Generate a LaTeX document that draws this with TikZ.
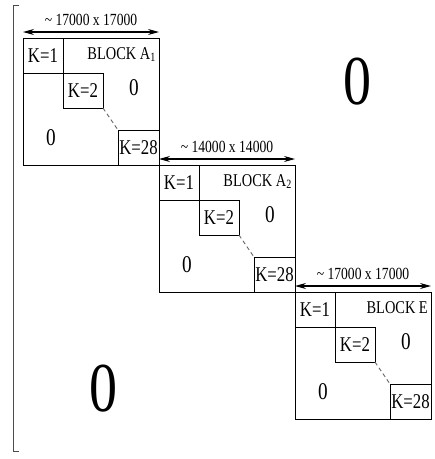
\documentclass[tikz,border=0pt]{standalone}
\usepackage{fontspec}
\setmainfont{Liberation Serif}[FakeStretch=0.8]
\usetikzlibrary{positioning,arrows.meta}

\begin{document}
\begin{tikzpicture}[
x=1pt, y=-1pt,
block/.style={draw, line width=0.9pt, minimum width=136pt, minimum height=127pt, inner sep=0pt, outer sep=0pt},
kbox/.style={draw, line width=0.9pt, minimum width=40pt, minimum height=35pt, inner sep=0pt, outer sep=0pt, font=\fontsize{21}{22}\selectfont},
blocklabel/.style={inner sep=0pt, font=\fontsize{18}{20}\selectfont},
zero/.style={inner sep=0pt, font=\fontsize{24}{26}\selectfont},
bigzero/.style={inner sep=0pt, font=\fontsize{70}{72}\selectfont},
dimlabel/.style={inner sep=0pt, font=\fontsize{17}{18}\selectfont},
dimarr/.style={{Stealth[length=11pt,width=6pt]}-{Stealth[length=11pt,width=6pt]}, line width=1.1pt},
diag/.style={dash pattern=on 4pt off 3pt, line width=0.9pt, black!60}
]
\useasboundingbox (0,0) rectangle (435,459);

% left bracket of the whole matrix
\draw[line width=1pt, black!70] (19,5) -- (13,5) -- (13,451) -- (19,451);

% block A1
\node[block, anchor=north west] (A1) at (23,38) {};
\node[kbox, anchor=north west] (A1k1) at (A1.north west) {K=1};
\node[kbox, below right=0pt and 0pt of A1k1] (A1k2) {K=2};
\node[kbox, minimum width=41pt, anchor=south east] (A1k28) at (A1.south east) {K=28};
\draw[diag] (A1k2.south east) -- (A1k28.north west);
\node[blocklabel, anchor=north east] (A1lab) at ([xshift=-3pt, yshift=-9pt]A1.north east) {BLOCK A\textsubscript{1}};
\node[zero] (A1up) at ([shift={(111,50)}]A1.north west) {0};
\node[zero] (A1lo) at ([shift={(28,100)}]A1.north west) {0};
\draw[dimarr] ([yshift=6pt]A1.north west) -- ([yshift=6pt]A1.north east)
  node[midway, above=6pt, dimlabel] (A1dim) {\textasciitilde\ 17000 x 17000};

% block A2
\node[block, below right=0pt and 0pt of A1] (A2) {};
\node[kbox, anchor=north west] (A2k1) at (A2.north west) {K=1};
\node[kbox, below right=0pt and 0pt of A2k1] (A2k2) {K=2};
\node[kbox, minimum width=41pt, anchor=south east] (A2k28) at (A2.south east) {K=28};
\draw[diag] (A2k2.south east) -- (A2k28.north west);
\node[blocklabel, anchor=north east] (A2lab) at ([xshift=-3pt, yshift=-9pt]A2.north east) {BLOCK A\textsubscript{2}};
\node[zero] (A2up) at ([shift={(111,50)}]A2.north west) {0};
\node[zero] (A2lo) at ([shift={(28,100)}]A2.north west) {0};
\draw[dimarr] ([yshift=6pt]A2.north west) -- ([yshift=6pt]A2.north east)
  node[midway, above=6pt, dimlabel] (A2dim) {\textasciitilde\ 14000 x 14000};

% block E
\node[block, below right=0pt and 0pt of A2] (E) {};
\node[kbox, anchor=north west] (Ek1) at (E.north west) {K=1};
\node[kbox, below right=0pt and 0pt of Ek1] (Ek2) {K=2};
\node[kbox, minimum width=41pt, anchor=south east] (Ek28) at (E.south east) {K=28};
\draw[diag] (Ek2.south east) -- (Ek28.north west);
\node[blocklabel, anchor=north east] (Elab) at ([xshift=-3pt, yshift=-9pt]E.north east) {BLOCK E};
\node[zero] (Eup) at ([shift={(111,50)}]E.north west) {0};
\node[zero] (Elo) at ([shift={(28,100)}]E.north west) {0};
\draw[dimarr] ([yshift=6pt]E.north west) -- ([yshift=6pt]E.north east)
  node[midway, above=6pt, dimlabel] (Edim) {\textasciitilde\ 17000 x 17000};

% zero regions off the diagonal
\node[bigzero] (zup) at (357,82) {0};
\node[bigzero] (zlo) at (103,389) {0};
\end{tikzpicture}
\end{document}
